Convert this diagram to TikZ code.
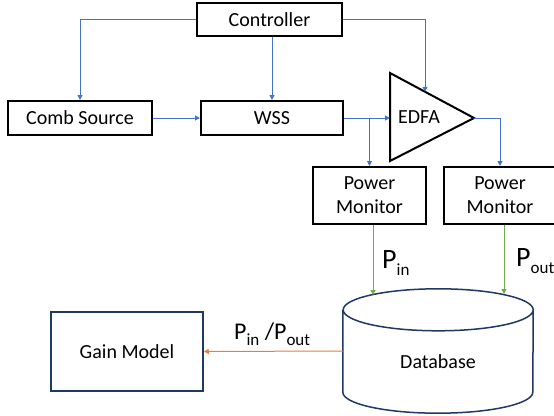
\documentclass[tikz,border=0pt]{standalone}
\usepackage{fontspec}
\setmainfont{Carlito}
\usetikzlibrary{arrows.meta,positioning,calc}
\definecolor{ctrlblue}{HTML}{4472C4}
\definecolor{pwgreen}{HTML}{70AD47}
\definecolor{fitorange}{HTML}{ED7D31}
\definecolor{dbnavy}{HTML}{203864}
\newcommand{\sublab}[2][17]{\raisebox{-0.25em}{\fontsize{#1}{#1}\selectfont #2}}
\tikzstyle{block} = [draw, line width=2pt, rectangle, inner sep=0pt,
    minimum height=34pt, minimum width=144pt]
\tikzset{%
    monitor/.style  = {block, minimum height=57pt, minimum width=113pt, align=center},
    store/.style    = {draw=dbnavy, line width=1.5pt},
    model/.style    = {store, rectangle, inner sep=0pt, minimum width=152pt,
        minimum height=79pt},
    ctrl/.style     = {draw=ctrlblue, line width=1pt, -{Triangle[length=5pt,width=5pt]}},
    power/.style    = {draw=pwgreen, line width=1pt, -{Triangle[length=5pt,width=5pt]}},
    fit_out/.style  = {draw=fitorange, line width=1pt, -{Triangle[length=5pt,width=5pt]}},
    plabel/.style   = {anchor=base west, inner sep=0pt, font=\fontsize{28}{32}\selectfont},
}

\begin{document}
\begin{tikzpicture}[x=1pt, y=-1pt, font=\fontsize{20}{24}\selectfont]
    \useasboundingbox (0,0) rectangle (554,415);

    % We start by placing the blocks
    \node [block, minimum width=145pt, minimum height=33pt] (controller) at (269.5,19.5) {Controller};
    \node [block] (comb_src) at (80,118) {Comb Source};
    \node [block, minimum width=142pt] (wss) at (272,118) {WSS};

    % amplifier
    \coordinate (edfa_top) at (390,73);
    \coordinate (edfa_out) at (474,118);
    \coordinate (edfa_bot) at (390,161);
    \draw [line width=2pt, line join=miter] (edfa_top) -- (edfa_out) -- (edfa_bot) -- cycle;
    \node (edfa) at (419,117) {EDFA};
    \coordinate (edfa_in) at (edfa_top |- wss.east);

    \node [monitor] (pm_in) at (369.5,195.5) {Power\\Monitor};
    \node [monitor, minimum width=112pt] (pm_out) at (500,195.5) {Power\\Monitor};

    % database and gain model
    \node [inner sep=0pt, minimum width=190pt, minimum height=124pt] (db) at (438,351) {};
    \draw [store] ([yshift=-21pt]db.north west) -- ([yshift=21pt]db.south west)
        arc [start angle=180, end angle=360, x radius=95pt, y radius=21pt]
        -- ([yshift=-21pt]db.north east)
        arc [start angle=0, end angle=360, x radius=95pt, y radius=21pt];
    \node (db_label) at (438,362) {Database};
    \node [model] (gain) at (127,351.5) {Gain Model};
    \coordinate (db_in) at (373,295);
    \coordinate (db_out) at (504,294);

    % Once the nodes are placed, connecting them is easy.
    \draw [ctrl] (controller.west) -| (comb_src.north);
    \draw [ctrl] (controller.south -| wss.north) -- (wss.north);
    \draw [ctrl] (controller.east) -| ($(edfa_top)!0.417!(edfa_out)$);
    \draw [ctrl] (comb_src) -- (wss);
    \draw [ctrl] (wss.east) -- (edfa_in);
    \draw [ctrl] (wss.east -| pm_in.north) -- (pm_in.north);
    \draw [ctrl] (edfa_out) -| (pm_out.north);

    \draw [power] (pm_in.south -| db_in) -- (db_in);
    \draw [power] (pm_out.south -| db_out) -- (db_out);
    \draw [fit_out] (db.west) -- (gain.east);

    \node [plabel] (p_in) at (382,268) {P\sublab{in}};
    \node [plabel] (p_out) at (516,266) {P\sublab{out}};
    \node [plabel, font=\fontsize{24}{28}\selectfont] (p_ratio) at (234,339)
        {P\sublab[17]{in} /P\sublab[17]{out}};
\end{tikzpicture}
\end{document}
